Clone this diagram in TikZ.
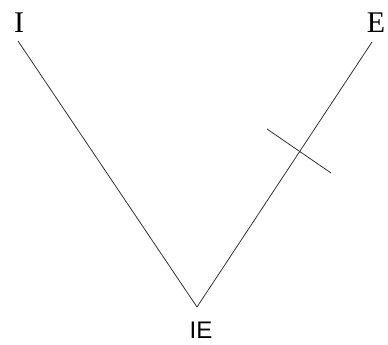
\documentclass[tikz,border=0pt]{standalone}
\usepackage{fontspec}
\setmainfont{Liberation Serif}
\newfontfamily\labelsans{Liberation Sans}
\usetikzlibrary{positioning}

\begin{document}
\begin{tikzpicture}[
        x=1pt, y=-1pt,
        leaf/.style={inner sep=0pt, font=\fontsize{30}{34}\selectfont},
        root/.style={inner sep=0pt, font=\labelsans\fontsize{24}{28}\selectfont},
        branch/.style={line width=0.8pt, draw=black!80}
    ]
    \useasboundingbox (0,0) rectangle (388,345);

    % leaves
    \node[leaf] (i) at (19,23) {I};
    \node[leaf] (e) at (376,23) {E};

    % branch ends and root
    \coordinate (itop) at (18,41);
    \coordinate (etop) at (372,42);
    \coordinate (v) at (197,307);
    \node[root, below=15pt of v, xshift=4pt] (ie) {IE};

    % tree
    \draw[branch] (itop) -- (v);
    \draw[branch] (etop) -- (v);

    % mark on the E branch
    \coordinate (t1) at (267,129);
    \coordinate (t2) at (331,173);
    \draw[branch] (t1) -- (t2);

\end{tikzpicture}
\end{document}
